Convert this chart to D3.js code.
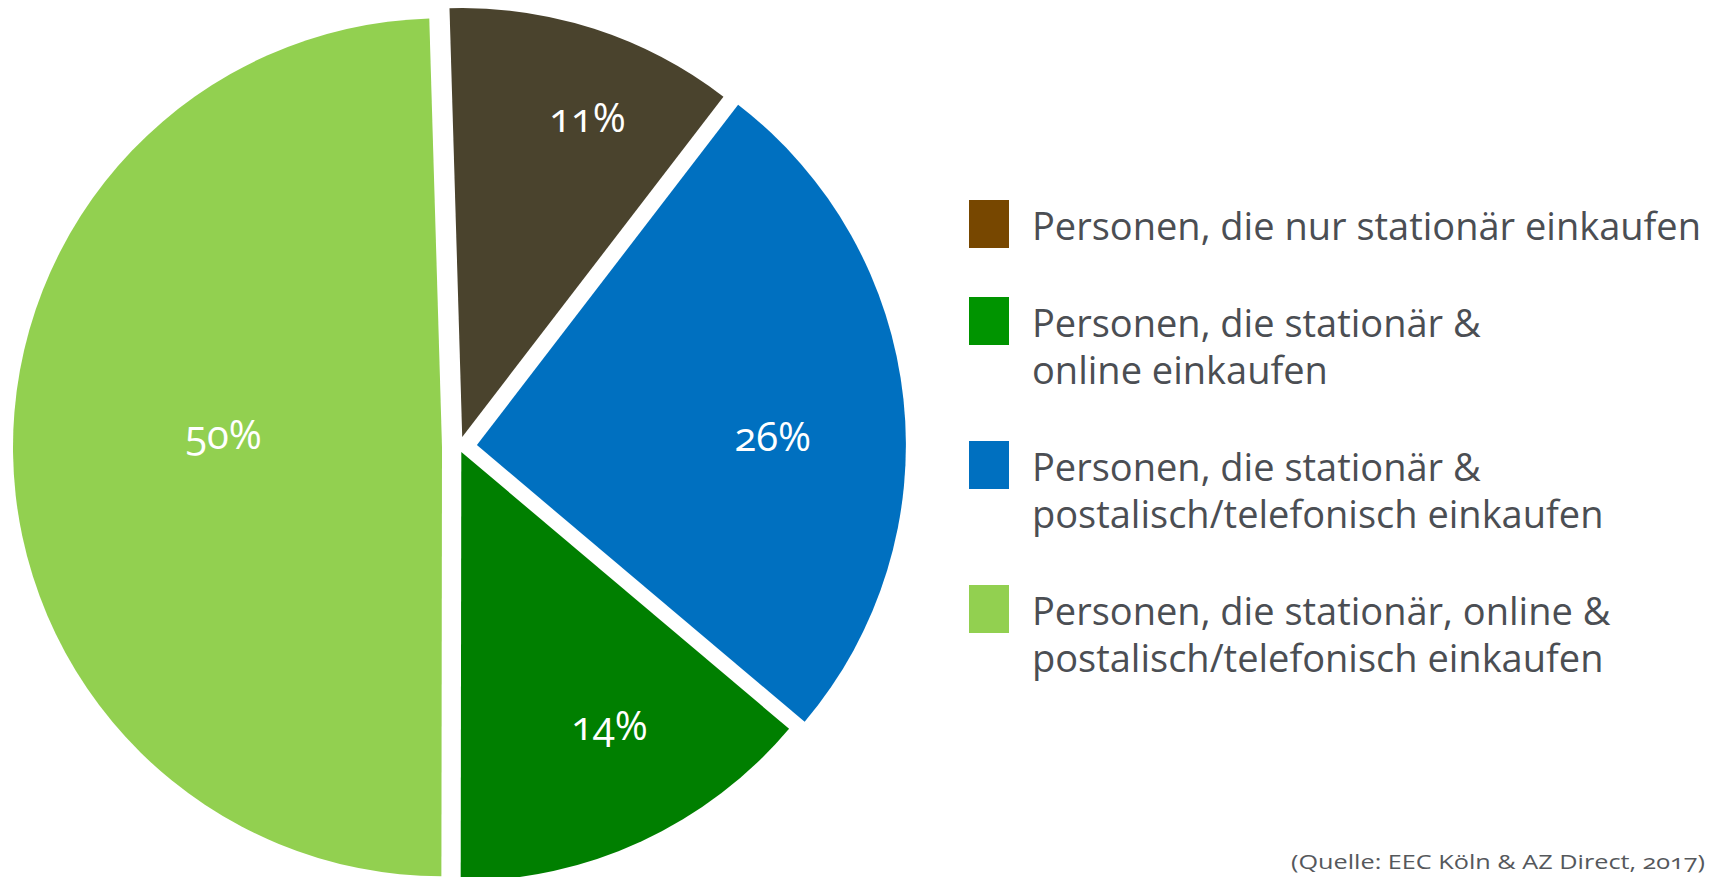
<!DOCTYPE html>
<html>
<head>
<meta charset="utf-8">
<script src="https://cdnjs.cloudflare.com/ajax/libs/d3/7.8.5/d3.min.js"></script>
<style>
  body { margin: 0; background: #fff; overflow: hidden; }
  svg { display: block; font-family: "Open Sans", "Noto Sans", sans-serif; }
  .num { font-variant-numeric: oldstyle-nums; font-feature-settings: "onum"; }
</style>
</head>
<body>
<div id="chart"></div>
<script>
// categories in legend order
var categories = [
    "Personen, die nur stationär einkaufen",
    "Personen, die stationär & online einkaufen",
    "Personen, die stationär & postalisch/telefonisch einkaufen",
    "Personen, die stationär, online & postalisch/telefonisch einkaufen"
];
// legend text, split as in the picture
var legendLines = [
    ["Personen, die nur stationär einkaufen"],
    ["Personen, die stationär &", "online einkaufen"],
    ["Personen, die stationär &", "postalisch/telefonisch einkaufen"],
    ["Personen, die stationär, online &", "postalisch/telefonisch einkaufen"]
];
var values = [11, 14, 26, 50];   // percent
var sliceOrder = [0, 2, 1, 3];   // clockwise order of the slices
var sourceText = "(Quelle: EEC Köln & AZ Direct, 2017)";

function init() {
    const width = 1710;
    const height = 877;
    const R = 429;
    const cx = 459, cy = 447;

    var sliceColor = d3.scaleOrdinal()
        .domain(categories)
        .range(["#4A432D", "#007F00", "#0070C0", "#92D050"]);
    var legendColor = d3.scaleOrdinal()
        .domain(categories)
        .range(["#774700", "#009400", "#0070C0", "#92D050"]);

    // how far each slice is pulled out, and where its label sits
    var explode = [10.5, 5.5, 18, 17];
    var labelFrac = [0.80, 0.725, 0.69, 0.51];
    var labelTurn = [3.5, -3.6, 4.5, 4];   // degrees

    var data = categories.map((c, i) => ({ name: c, value: values[i], i: i }));

    const startA = -1.7 * Math.PI / 180;
    var pie = d3.pie()
        .value(d => d.value)
        .sort((a, b) => sliceOrder.indexOf(a.i) - sliceOrder.indexOf(b.i))
        .startAngle(startA)
        .endAngle(startA + 2 * Math.PI);

    var arc = d3.arc().innerRadius(0).outerRadius(R);

    var svg = d3.select("#chart")
        .append("svg")
        .attr("width", width)
        .attr("height", height);

    var arcs = pie(data);

    var slices = svg.append("g")
        .attr("transform", `translate(${cx},${cy})`)
        .selectAll("g.slice")
        .data(arcs)
        .enter()
        .append("g")
        .attr("class", "slice")
        .attr("transform", d => {
            var mid = (d.startAngle + d.endAngle) / 2;
            var o = explode[d.data.i];
            return `translate(${Math.sin(mid) * o},${-Math.cos(mid) * o})`;
        });

    slices.append("path")
        .attr("d", arc)
        .attr("fill", d => sliceColor(d.data.name));

    // percentage labels
    slices.append("text")
        .attr("class", "num")
        .attr("x", d => {
            var a = (d.startAngle + d.endAngle) / 2 + labelTurn[d.data.i] * Math.PI / 180;
            return Math.sin(a) * R * labelFrac[d.data.i];
        })
        .attr("y", d => {
            var a = (d.startAngle + d.endAngle) / 2 + labelTurn[d.data.i] * Math.PI / 180;
            return -Math.cos(a) * R * labelFrac[d.data.i];
        })
        .attr("dy", "0.36em")
        .attr("text-anchor", "middle")
        .attr("fill", "#fff")
        .attr("font-size", 40)
        .text(d => d.data.value + "%");

    // legend
    const lineH = 47, gap = 50;
    var legend = svg.append("g");
    var yPos = 200;
    var items = [];
    legendLines.forEach((lines, i) => {
        items.push({ name: categories[i], lines: lines, y: yPos });
        yPos += lines.length * lineH + gap;
    });

    var item = legend.selectAll("g.item")
        .data(items)
        .enter()
        .append("g")
        .attr("class", "item")
        .attr("transform", d => `translate(969,${d.y})`);

    item.append("rect")
        .attr("width", 40)
        .attr("height", 48)
        .attr("fill", d => legendColor(d.name));

    var lineText = item.selectAll("text")
        .data(d => d.lines)
        .enter()
        .append("text")
        .attr("x", 63)
        .attr("y", (d, j) => 40 + j * lineH)
        .attr("font-size", 38)
        .attr("fill", "#4B4E53")
        .text(d => d);

    // the original type is a little narrower than Open Sans
    var first = lineText.node().getComputedTextLength();
    var k = 669 / first;
    lineText.each(function () {
        var w = this.getComputedTextLength();
        d3.select(this)
            .attr("textLength", w * k)
            .attr("lengthAdjust", "spacingAndGlyphs");
    });

    // source note in the bottom right corner
    svg.append("text")
        .attr("class", "num")
        .attr("x", 1291)
        .attr("y", 869)
        .attr("font-size", 20)
        .attr("fill", "#55585C")
        .attr("textLength", 414)
        .attr("lengthAdjust", "spacingAndGlyphs")
        .text(sourceText);
}

init();
</script>
</body>
</html>
